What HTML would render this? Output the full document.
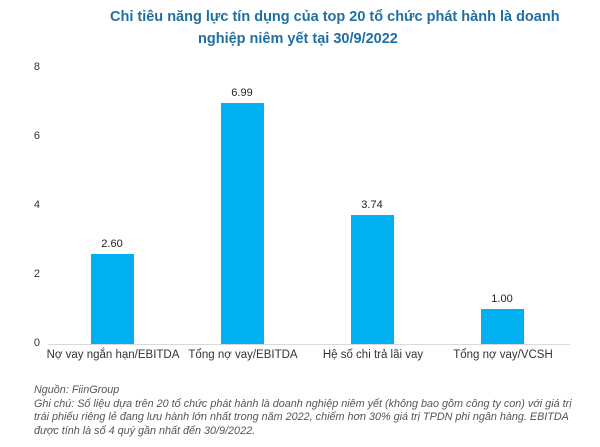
<!DOCTYPE html>
<html><head><meta charset="utf-8"><style>
body{margin:0;width:600px;height:447px;background:#fff;font-family:"Liberation Sans",sans-serif;position:relative;overflow:hidden}
.t{position:absolute;color:#1f6fa3;font-weight:bold;font-size:14.5px;white-space:nowrap}
.y{position:absolute;left:30px;font-size:11px;color:#333;width:10px;text-align:right}
.b{position:absolute;background:#00b0f0;width:43px}
.v{position:absolute;font-size:11px;color:#222;width:60px;text-align:center}
.x{position:absolute;top:349px;font-size:11.5px;color:#333;width:150px;text-align:center;white-space:nowrap}
.n{position:absolute;left:34px;font-size:10.8px;font-style:italic;color:#555;white-space:nowrap}
</style></head><body>
<div class="t" style="left:110px;top:9px">Chỉ tiêu năng lực tín dụng của top 20 tổ chức phát hành là doanh</div>
<div class="t" style="left:198px;top:31px">nghiệp niêm yết tại 30/9/2022</div>
<div class="y" style="top:61px">8</div>
<div class="y" style="top:130px">6</div>
<div class="y" style="top:199px">4</div>
<div class="y" style="top:268px">2</div>
<div class="y" style="top:337px">0</div>
<div style="position:absolute;left:48px;top:344px;width:522px;height:1px;background:#d9d9d9"></div>
<div class="b" style="left:91px;top:254px;height:90px"></div>
<div class="b" style="left:221px;top:103px;height:241px"></div>
<div class="b" style="left:351px;top:215px;height:129px"></div>
<div class="b" style="left:481px;top:309px;height:35px"></div>
<div class="v" style="left:82px;top:238px">2.60</div>
<div class="v" style="left:212px;top:87px">6.99</div>
<div class="v" style="left:342px;top:199px">3.74</div>
<div class="v" style="left:472px;top:293px">1.00</div>
<div class="x" style="left:38px">Nợ vay ngắn hạn/EBITDA</div>
<div class="x" style="left:168px">Tổng nợ vay/EBITDA</div>
<div class="x" style="left:298px">Hệ số chi trả lãi vay</div>
<div class="x" style="left:428px">Tổng nợ vay/VCSH</div>
<div class="n" style="top:384px">Nguồn: FiinGroup</div>
<div class="n" style="top:398px">Ghi chú: Số liệu dựa trên 20 tổ chức phát hành là doanh nghiệp niêm yết (không bao gồm công ty con) với giá trị</div>
<div class="n" style="top:411px">trái phiếu riêng lẻ đang lưu hành lớn nhất trong năm 2022, chiếm hơn 30% giá trị TPDN phi ngân hàng. EBITDA</div>
<div class="n" style="top:425px">được tính là số 4 quý gần nhất đến 30/9/2022.</div>
</body></html>
